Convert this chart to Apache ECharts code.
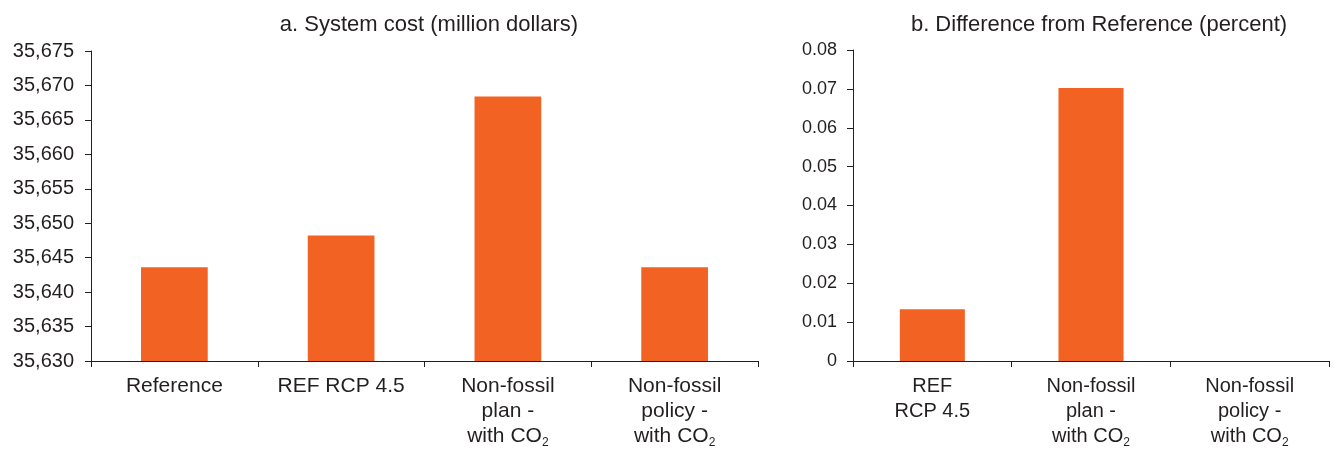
<!DOCTYPE html>
<html><head><meta charset="utf-8">
<script src="https://cdn.jsdelivr.net/npm/echarts@6/dist/echarts.min.js"></script>
<style>html,body{margin:0;padding:0;background:#fff}#c{width:1334px;height:449px}</style>
</head><body><div id="c"></div>
<script>
const catsA = ['Reference', 'REF RCP 4.5', 'Non-fossil\nplan -\nwith CO{sub|2}', 'Non-fossil\npolicy -\nwith CO{sub|2}'];
const valsA = [35643.6, 35648.2, 35668.4, 35643.6];
const catsB = ['REF\nRCP 4.5', 'Non-fossil\nplan -\nwith CO{sub|2}', 'Non-fossil\npolicy -\nwith CO{sub|2}'];
const valsB = [0.0133, 0.0702, 0];
const titleA = 'a. System cost (million dollars)';
const titleB = 'b. Difference from Reference (percent)';

const ink = '#231f20';
const orange = '#f26222';
const font = '"Liberation Sans", Arial, sans-serif';

function rich() {
  return {
    sub: { fontFamily: font, fontSize: 12, color: ink, verticalAlign: 'bottom', padding: [12, 0, 0, 0], lineHeight: 25 }
  };
}

const chart = echarts.init(document.getElementById('c'), null, { renderer: 'canvas' });
chart.setOption({
  animation: false,
  title: [
    { text: titleA, left: 424, top: 9, textAlign: 'center',
      textStyle: { fontFamily: font, fontSize: 22, fontWeight: 'normal', color: ink } },
    { text: titleB, left: 1094, top: 9, textAlign: 'center',
      textStyle: { fontFamily: font, fontSize: 22, fontWeight: 'normal', color: ink } }
  ],
  grid: [
    { left: 91, right: 576, top: 51, bottom: 87 },
    { left: 853, right: 5, top: 50, bottom: 87 }
  ],
  xAxis: [
    { type: 'category', gridIndex: 0, data: catsA,
      axisLine: { lineStyle: { color: ink, width: 1 } },
      axisTick: { show: true, length: 6, lineStyle: { color: ink } },
      axisLabel: { color: ink, fontFamily: font, fontSize: 21, lineHeight: 25, margin: 13, interval: 0, rich: rich() } },
    { type: 'category', gridIndex: 1, data: catsB,
      axisLine: { lineStyle: { color: ink, width: 1 } },
      axisTick: { show: true, length: 6, lineStyle: { color: ink } },
      axisLabel: { color: ink, fontFamily: font, fontSize: 20, lineHeight: 25, margin: 13, interval: 0, rich: rich() } }
  ],
  yAxis: [
    { type: 'value', gridIndex: 0, min: 35630, max: 35675, interval: 5,
      splitLine: { show: false },
      axisLine: { show: true, lineStyle: { color: ink } },
      axisTick: { show: true, length: 6, lineStyle: { color: ink } },
      axisLabel: { color: ink, fontFamily: font, fontSize: 20, margin: 17,
        formatter: v => v.toLocaleString('en-US') } },
    { type: 'value', gridIndex: 1, min: 0, max: 0.08, interval: 0.01,
      splitLine: { show: false },
      axisLine: { show: true, lineStyle: { color: ink } },
      axisTick: { show: true, length: 6, lineStyle: { color: ink } },
      axisLabel: { color: ink, fontFamily: font, fontSize: 18, margin: 16,
        formatter: v => v === 0 ? '0' : v.toFixed(2) } }
  ],
  series: [
    { type: 'bar', xAxisIndex: 0, yAxisIndex: 0, data: valsA, barWidth: '40%',
      itemStyle: { color: orange } },
    { type: 'bar', xAxisIndex: 1, yAxisIndex: 1, data: valsB, barWidth: '41%',
      itemStyle: { color: orange } }
  ]
});
</script></body></html>
